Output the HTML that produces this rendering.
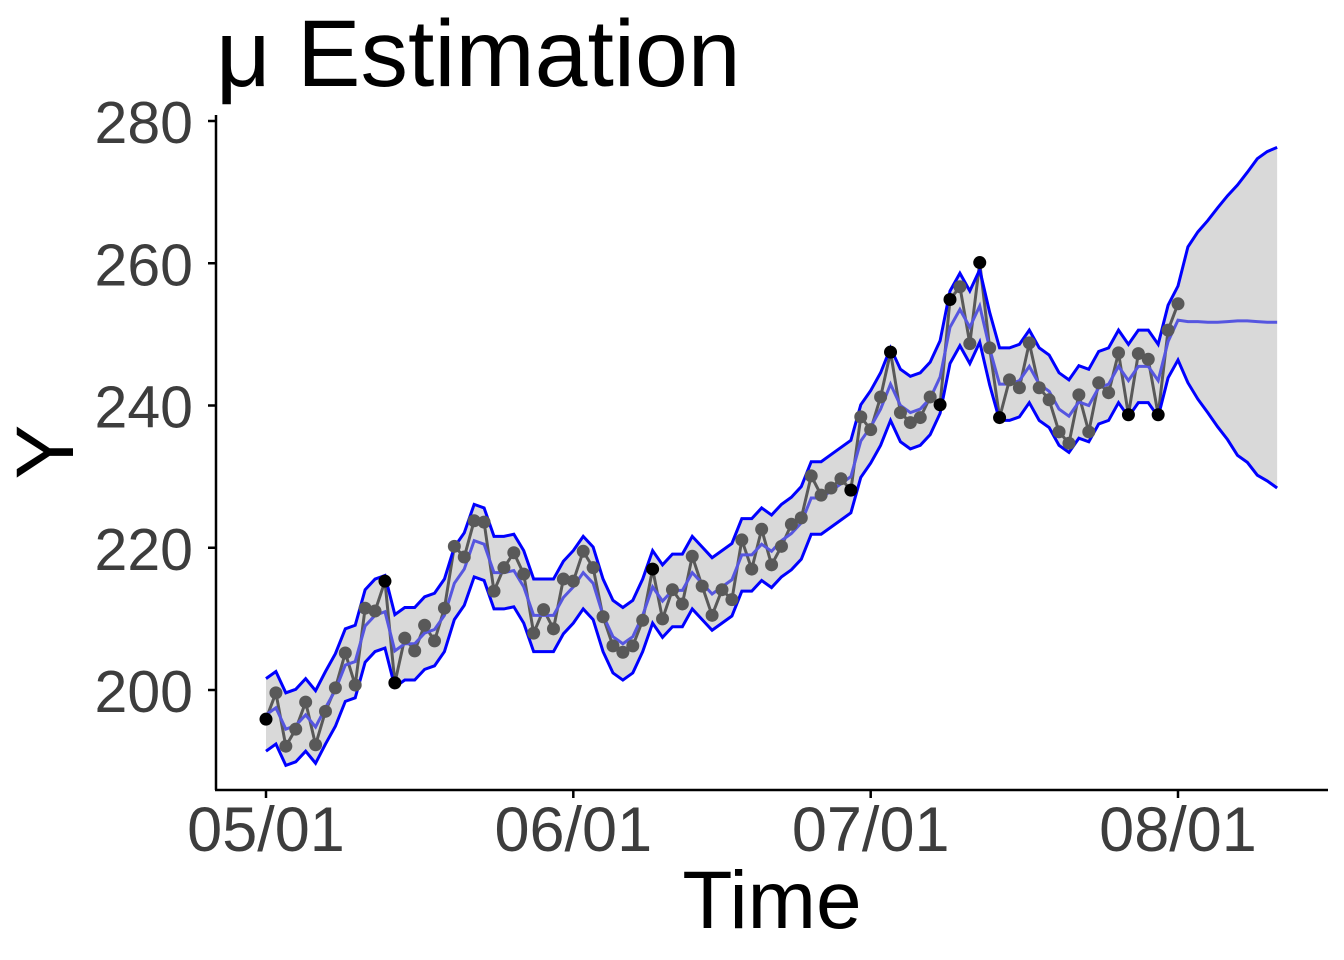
<!DOCTYPE html>
<html><head><meta charset="utf-8"><style>
html,body{margin:0;padding:0;background:#fff;}
svg{display:block;font-family:"Liberation Sans",Arial,sans-serif;}
</style></head><body>
<svg id="chart" width="1344" height="960" viewBox="0 0 1344 960" xmlns="http://www.w3.org/2000/svg">
<text x="216" y="86" font-size="95" fill="#000">μ Estimation</text>
<text transform="translate(73,452) rotate(-90)" text-anchor="middle" font-size="82" fill="#000">Y</text>
<text x="772" y="928" text-anchor="middle" font-size="82" fill="#000">Time</text>
<g id="plot"></g>
</svg>
<script>
const xTickLabels = ["05/01","06/01","07/01","08/01"];
const xTickDays = [0,31,61,92];
const yTicks = [200,220,240,260,280];
const obs = [195.9,199.6,192.1,194.5,198.3,192.3,197,200.3,205.2,200.7,211.5,211.1,215.3,201,207.3,205.5,209.1,206.9,211.5,220.2,218.7,223.8,223.6,213.9,217.2,219.3,216.3,208,211.3,208.6,215.6,215.3,219.5,217.2,210.3,206.2,205.3,206.2,209.8,217,210,214.1,212.1,218.8,214.6,210.5,214.1,212.7,221.1,217,222.6,217.6,220.2,223.3,224.2,230.1,227.4,228.4,229.7,228.1,238.4,236.6,241.2,247.5,239,237.6,238.3,241.2,240.1,254.9,256.7,248.7,260.1,248.1,238.3,243.6,242.5,248.8,242.5,240.8,236.3,234.7,241.5,236.3,243.2,241.8,247.4,238.7,247.3,246.5,238.7,250.6,254.3];
const outliers = [0,12,13,39,59,63,68,69,72,74,87,90];
const mu = [196.5,197.5,194.5,195,196.5,194.8,197.5,200,203.5,204,209,210.5,211,205.5,206.5,206.5,208,208.5,210.5,215,217,221,220.5,216.5,216.5,216.8,214.5,210.5,210.5,210.5,213,214.5,216.5,215,210.5,207.5,206.5,207.5,210.5,214.5,212.5,214,214,216.5,215,213.5,214.5,215.5,219,219,220.5,219.5,221,222,223.5,227,227,228,229,230,235,237,239.5,243,240,239,239.5,241,244,251,253.5,251,254,248,243,243,243.5,245.5,243,242,239.5,238.5,240.5,240,242.5,243,245.5,243.5,245.5,245.5,243.5,249,252,251.8,251.8,251.7,251.7,251.8,251.9,251.9,251.8,251.7,251.7];
const bandHalf = 5.1;
const fcUpper = [256.8,262.3,264.4,266,267.8,269.5,271,272.8,274.7,275.7,276.3];
const fcLower = [246.4,243.2,240.9,239,237,235.2,233,232,230.2,229.4,228.4];
const fcStart = 92;

const NS="http://www.w3.org/2000/svg";
const g=document.getElementById('plot');
const X=d=>266+d*(1178-266)/92;
const Y=v=>690-(v-200)*(690-121)/80;
function mk(tag,attrs){const e=document.createElementNS(NS,tag);for(const k in attrs)e.setAttribute(k,attrs[k]);g.appendChild(e);return e;}
const up=[],lo=[];
for(let d=0;d<mu.length;d++){
  if(d<fcStart){up.push(mu[d]+bandHalf);lo.push(mu[d]-bandHalf);}
  else{up.push(fcUpper[d-fcStart]);lo.push(fcLower[d-fcStart]);}
}
let pts=up.map((v,d)=>X(d)+','+Y(v));
for(let d=lo.length-1;d>=0;d--)pts.push(X(d)+','+Y(lo[d]));
const band=mk('polygon',{points:pts.join(' '),fill:'#d9d9d9',stroke:'none'});


const obsLine=mk('polyline',{points:obs.map((v,d)=>X(d)+','+Y(v)).join(' '),fill:'none',stroke:'#595959','stroke-width':3});


const upL=mk('polyline',{points:up.map((v,d)=>X(d)+','+Y(v)).join(' '),fill:'none',stroke:'#0000ff','stroke-width':3});


const loL=mk('polyline',{points:lo.map((v,d)=>X(d)+','+Y(v)).join(' '),fill:'none',stroke:'#0000ff','stroke-width':3});


const muL=mk('polyline',{points:mu.map((v,d)=>X(d)+','+Y(v)).join(' '),fill:'none',stroke:'#5656e0','stroke-width':3});


obs.forEach((v,d)=>{
  const c=mk('circle',{cx:X(d),cy:Y(v),r:6.5,fill:outliers.includes(d)?'#000':'#595959'});
  
  
});
const ya=mk('line',{x1:216,y1:115,x2:216,y2:790,stroke:'#000','stroke-width':2.5});


const xa=mk('line',{x1:215,y1:790,x2:1328,y2:790,stroke:'#000','stroke-width':2.5});


yTicks.forEach(v=>{
  const t=mk('line',{x1:208,y1:Y(v),x2:216,y2:Y(v),stroke:'#000','stroke-width':2.5});
  
  
  const l=mk('text',{x:193,y:Y(v)+22,'text-anchor':'end','font-size':59,fill:'#3d3d3d'});
  l.textContent=v;
  
  
});
xTickDays.forEach((d,i)=>{
  const t=mk('line',{x1:X(d),y1:790,x2:X(d),y2:798,stroke:'#000','stroke-width':2.5});
  
  
  const l=mk('text',{x:X(d),y:851,'text-anchor':'middle','font-size':63,fill:'#3d3d3d'});
  l.textContent=xTickLabels[i];
  
  
});
</script>
</body></html>
